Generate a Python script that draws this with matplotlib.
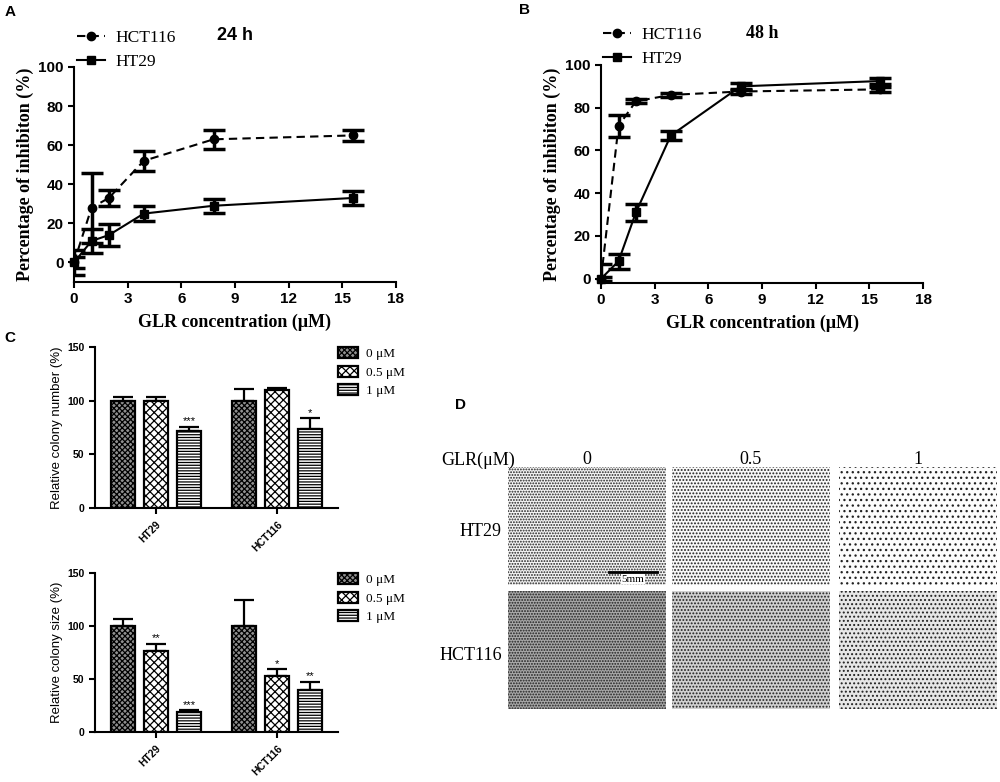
import matplotlib
matplotlib.use('Agg')
import matplotlib.pyplot as plt
from matplotlib.patches import Rectangle

SANS = 'Liberation Sans'
SERIF = 'Liberation Serif'
plt.rcParams['font.family'] = SANS
plt.rcParams['hatch.linewidth'] = 0.9

# --- A / B: inhibition vs GLR concentration ---
conc = [0, 0.98, 1.95, 3.9, 7.8, 15.6]
hct116_24h = [0, 28, 33, 52, 63, 65]
hct116_24h_err = [6.5, 18, 4, 5, 5, 3]
ht29_24h = [0, 11, 14, 25, 29, 33]
ht29_24h_err = [3, 6, 5.5, 4, 3.5, 3.5]
hct116_48h = [0, 71.5, 83, 86, 87.6, 88.6]
hct116_48h_err = [7, 5, 1, 1, 1, 1]
ht29_48h = [0, 8.2, 31, 67, 90, 92.5]
ht29_48h_err = [1, 3.5, 4, 2, 1.5, 1.5]

# --- C: soft agar colony assay ---
cells = ['HT29', 'HCT116']
doses = ['0 μM', '0.5 μM', '1 μM']
colony_number = [[100, 100, 72], [100, 110, 73.5]]
colony_number_err = [[3, 3, 3.5], [11, 1.5, 10]]
colony_number_sig = [['', '', '***'], ['', '', '*']]
colony_size = [[100, 76.5, 19], [100, 53, 39.5]]
colony_size_err = [[7, 6.5, 1.5], [25, 6, 8]]
colony_size_sig = [['', '**', '***'], ['', '*', '**']]

# --- D: photo grid labels ---
d_doses = ['0', '0.5', '1']
d_rows = ['HT29', 'HCT116']

W, H = 1000, 782
fig = plt.figure(figsize=(10, 7.82), dpi=100)


def px_rect(x0, y_top, x1, y_bot):
    return [x0 / W, 1 - y_bot / H, (x1 - x0) / W, (y_bot - y_top) / H]


def style_axes(ax, tick_size):
    for s in ['top', 'right']:
        ax.spines[s].set_visible(False)
    for s in ['left', 'bottom']:
        ax.spines[s].set_linewidth(1.5)
    ax.tick_params(width=1.5, length=4, labelsize=tick_size)
    for lab in ax.get_xticklabels() + ax.get_yticklabels():
        lab.set_fontweight('bold')


def line_panel(rect, ymin, hct, hct_err, ht, ht_err, title, title_font, title_xy, leg_xy):
    ax = fig.add_axes(rect)
    ax.errorbar(conc, hct, yerr=hct_err, fmt='none', ecolor='black',
                elinewidth=2.5, capsize=8, capthick=2.5, zorder=2)
    ax.errorbar(conc, ht, yerr=ht_err, fmt='none', ecolor='black',
                elinewidth=2.5, capsize=8, capthick=2.5, zorder=2)
    ax.plot(conc, hct, color='black', ls=(0, (4, 2.5)), lw=1.5, marker='o',
            ms=6, label='HCT116', clip_on=False, zorder=3)
    ax.plot(conc, ht, color='black', ls='-', lw=1.5, marker='s',
            ms=6, label='HT29', clip_on=False, zorder=3)
    ax.set_xlim(0, 18)
    ax.set_ylim(ymin, 100)
    ax.set_xticks(range(0, 19, 3))
    ax.set_yticks(range(0, 101, 20))
    style_axes(ax, 11)
    ax.set_ylabel('Percentage of inhibiton (%)', family=SERIF,
                  fontweight='bold', fontsize=13, labelpad=3)
    ax.set_xlabel('GLR concentration (μM)', family=SERIF,
                  fontweight='bold', fontsize=13, labelpad=5)
    fig.text(title_xy[0] / W, 1 - title_xy[1] / H, title, family=title_font,
             fontweight='bold', fontsize=13, ha='center', va='center')
    ax.legend(loc='upper left', bbox_to_anchor=(leg_xy[0] / W, 1 - leg_xy[1] / H),
              bbox_transform=fig.transFigure, frameon=False,
              prop={'family': SERIF, 'size': 12.5}, handlelength=1.6,
              handletextpad=0.6, labelspacing=0.45, borderpad=0,
              borderaxespad=0, numpoints=1)
    return ax


line_panel(px_rect(74, 67, 396, 282), -10, hct116_24h, hct116_24h_err,
           ht29_24h, ht29_24h_err, '24 h', SANS, (235, 35), (77, 30))
line_panel(px_rect(601, 65, 923, 283), -2, hct116_48h, hct116_48h_err,
           ht29_48h, ht29_48h_err, '48 h', SERIF, (762, 33), (603, 27))

faces = ['#909090', 'white', 'white']
hatches = ['xxxxxx', 'xxxx', '------']


def bar_panel(rect, vals, errs, sigs, ylabel):
    ax = fig.add_axes(rect)
    gap = 3.67
    for g in range(len(cells)):
        for d in range(len(doses)):
            x = g * gap + d
            ax.bar(x, vals[g][d], width=0.7, facecolor=faces[d],
                   edgecolor='black', hatch=hatches[d], lw=1.6,
                   label=doses[d] if g == 0 else None, zorder=2)
            ax.errorbar(x, vals[g][d], yerr=[[0], [errs[g][d]]], fmt='none',
                        ecolor='black', elinewidth=1.6, capsize=7,
                        capthick=1.6, zorder=1)
            if sigs[g][d]:
                ax.text(x, vals[g][d] + errs[g][d] + 0.5, sigs[g][d],
                        ha='center', va='bottom', fontsize=8)
    ax.set_xlim(-0.85, 6.52)
    ax.set_ylim(0, 150)
    ax.set_yticks([0, 50, 100, 150])
    ax.set_xticks([g * gap + 1 for g in range(len(cells))])
    ax.set_xticklabels(cells, rotation=45, ha='right', rotation_mode='anchor')
    style_axes(ax, 7.5)
    ax.tick_params(axis='x', pad=4)
    ax.set_ylabel(ylabel, fontsize=9.5, labelpad=3)
    ax.legend(loc='upper left', bbox_to_anchor=(1.0, 1.0), frameon=False,
              prop={'family': SERIF, 'size': 9.5}, handlelength=1.5,
              handleheight=0.95, handletextpad=0.6, labelspacing=0.4,
              borderpad=0, borderaxespad=0)
    return ax


bar_panel(px_rect(95, 347, 338, 508), colony_number, colony_number_err,
          colony_number_sig, 'Relative colony number (%)')
bar_panel(px_rect(95, 573, 338, 732), colony_size, colony_size_err,
          colony_size_sig, 'Relative colony size (%)')

# panel D: photos shown as textured tiles
axd = fig.add_axes([0, 0, 1, 1], zorder=-1)
axd.set_xlim(0, W)
axd.set_ylim(H, 0)
axd.axis('off')
col_left = [508, 672, 839]
row_top = [467, 591]
tile_w, tile_h = 158, 118
tile_hatch = [['......', '.....', '...'], ['......', '.....', '....']]
tile_face = [['#f4f4f4', '#f8f8f8', '#fcfcfc'], ['#a8a8a8', '#d0d0d0', '#e6e6e6']]
for r in range(len(d_rows)):
    for c in range(len(d_doses)):
        axd.add_patch(Rectangle((col_left[c], row_top[r]), tile_w, tile_h,
                                facecolor=tile_face[r][c], edgecolor='#202020',
                                hatch=tile_hatch[r][c], lw=0))
for c, lab in enumerate(d_doses):
    axd.text(col_left[c] + tile_w / 2, 460, lab, family=SERIF, fontsize=13,
             ha='center', va='center')
axd.text(515, 460, 'GLR(μM)', family=SERIF, fontsize=13, ha='right', va='center')
for r, lab in enumerate(d_rows):
    axd.text(502, row_top[r] + 64, lab, family=SERIF, fontsize=13,
             ha='right', va='center')
axd.plot([609, 657], [572, 572], color='black', lw=2)
axd.text(633, 579, '5mm', family=SERIF, fontsize=8, ha='center', va='center',
         bbox=dict(facecolor='white', edgecolor='none', pad=0.5))

for lab, x, y in [('A', 10, 12), ('B', 525, 10), ('C', 10, 338), ('D', 460, 405)]:
    fig.text(x / W, 1 - y / H, lab, fontweight='bold', fontsize=11,
             ha='center', va='center')

fig.savefig('out.png', dpi=100)
